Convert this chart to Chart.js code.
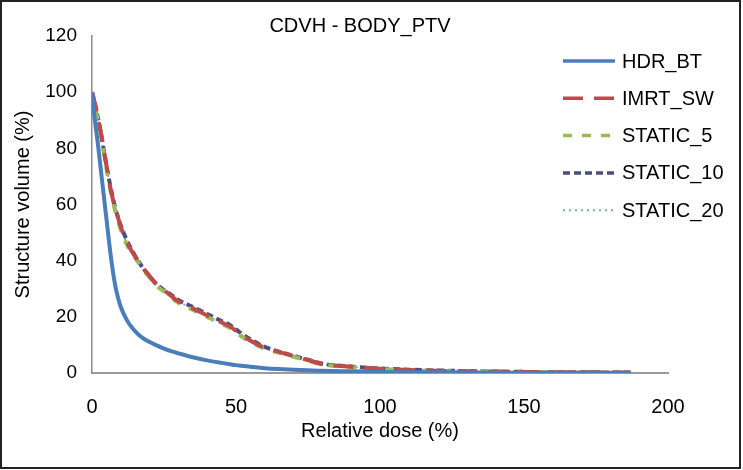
<!DOCTYPE html>
<html>
<head>
<meta charset="utf-8">
<script src="https://cdn.jsdelivr.net/npm/chart.js@4.4.1/dist/chart.umd.min.js"></script>
<style>
  body { margin: 0; background: #fff; }
  canvas { display: block; }
</style>
</head>
<body>
<canvas id="cdvh" width="743" height="470"></canvas>
<script>
/* CDVH - BODY_PTV */

const FONT = "'Liberation Sans', Arial, sans-serif";
const TITLE = "CDVH - BODY_PTV";

// Relative dose (%) sample points shared by every curve
const dose = [0, 1, 2, 3, 4, 5, 6, 7, 8, 9, 10, 12, 14, 16, 18, 20, 22, 25, 28, 30, 35,
  40, 45, 48, 50, 52, 55, 60, 65, 70, 75, 80, 90, 100, 110, 120, 130, 140, 150, 160, 170, 180, 187];

// Structure volume (%) per plan
const hdrBt = [100, 90, 82, 73, 64, 55, 46, 38, 31.5, 27, 23.5, 19, 16, 13.8, 12.2, 11, 10, 8.7, 7.6, 7, 5.6,
  4.5, 3.6, 3.1, 2.8, 2.6, 2.2, 1.7, 1.4, 1.2, 1.0, 0.8, 0.6, 0.4, 0.3, 0.25, 0.2, 0.15, 0.1, 0.1, 0.05, 0.05, 0.05];
const imrtSw = [100, 96, 91, 86, 80, 74, 68, 63, 59, 55.5, 52, 47, 43, 40, 37, 34.5, 32, 29.5, 27, 25.5, 23,
  20.5, 18, 16.5, 15, 13.5, 11.5, 9, 7.5, 6, 4.6, 3.2, 2.2, 1.5, 1.1, 0.8, 0.6, 0.5, 0.4, 0.3, 0.3, 0.2, 0.2];
const static5 = [100, 95, 90, 85, 79, 73, 67, 62, 58, 54.5, 51, 46, 42.5, 39.5, 36.5, 34, 31.5, 29, 26.5, 25, 22.5,
  20, 17.5, 16, 14.5, 13, 11, 8.7, 7.2, 5.8, 4.4, 3.1, 2.1, 1.4, 1.0, 0.8, 0.6, 0.5, 0.4, 0.3, 0.2, 0.2, 0.2];
const static10 = [100, 96, 91, 86, 80, 74, 68.5, 63.5, 59, 55.5, 52.5, 47.5, 43.5, 40, 37, 34.5, 32, 29.5, 27.5, 26, 23.5,
  21, 18.5, 17, 15.5, 14, 12, 9.3, 7.6, 6.1, 4.7, 3.3, 2.3, 1.6, 1.2, 0.9, 0.7, 0.5, 0.4, 0.3, 0.3, 0.2, 0.2];
const static20 = [100, 96, 90.5, 85.5, 79.5, 73.5, 67.5, 62.5, 58.5, 55, 51.5, 46.5, 42.5, 39.5, 36.5, 34, 31.5, 29, 27, 25.5, 23,
  20.5, 18, 16.5, 15, 13.5, 11.5, 9, 7.4, 6, 4.5, 3.2, 2.2, 1.5, 1.1, 0.8, 0.6, 0.5, 0.4, 0.3, 0.3, 0.2, 0.2];

const seriesLabels = ["HDR_BT", "IMRT_SW", "STATIC_5", "STATIC_10", "STATIC_20"];
const seriesValues = [hdrBt, imrtSw, static5, static10, static20];

const seriesStyles = [
  { color: "#4a7ebb", width: 4, dash: [] },
  { color: "#be4b48", width: 4, dash: [20, 11] },
  { color: "#9bbb59", width: 4, dash: [9, 10] },
  { color: "#4b4f7c", width: 4, dash: [7, 4] },
  { color: "#7fa8c8", width: 2, dash: [2, 4] },
];

const points = (vals) => vals.map((v, i) => ({ x: dose[i], y: v }));

// title centred on the whole picture, not on the plot
const pageTitle = {
  id: "pageTitle",
  afterDraw(chart) {
    const ctx = chart.ctx;
    ctx.save();
    ctx.font = `20px ${FONT}`;
    ctx.fillStyle = "#000";
    ctx.textAlign = "center";
    ctx.textBaseline = "alphabetic";
    ctx.fillText(TITLE, 360, 32);
    ctx.restore();
  },
};

// Excel-style legend sitting over the right side of the plot
const sideLegend = {
  id: "sideLegend",
  afterDatasetsDraw(chart) {
    const ctx = chart.ctx;
    ctx.save();
    ctx.font = `20px ${FONT}`;
    ctx.textBaseline = "middle";
    ctx.fillStyle = "#000";
    chart.data.datasets.forEach((ds, i) => {
      const y = 61 + i * 37.3;
      ctx.beginPath();
      ctx.strokeStyle = ds.borderColor;
      ctx.lineWidth = Math.min(ds.borderWidth, 3.5);
      ctx.setLineDash(ds.borderDash || []);
      ctx.moveTo(563, y);
      ctx.lineTo(615, y);
      ctx.stroke();
      ctx.setLineDash([]);
      ctx.fillText(ds.label, 622, y + 1);
    });
    ctx.restore();
  },
};

// thin dark frame round the whole picture
const frame = {
  id: "frame",
  afterDraw(chart) {
    const ctx = chart.ctx;
    ctx.save();
    ctx.strokeStyle = "#222";
    ctx.lineWidth = 2;
    ctx.strokeRect(1, 1, 739, 467);
    ctx.restore();
  },
};

new Chart(document.getElementById("cdvh"), {
  type: "line",
  data: {
    datasets: seriesLabels.map((label, i) => ({
      label,
      data: points(seriesValues[i]),
      borderColor: seriesStyles[i].color,
      backgroundColor: seriesStyles[i].color,
      borderWidth: seriesStyles[i].width,
      borderDash: seriesStyles[i].dash,
      pointRadius: 0,
      cubicInterpolationMode: "monotone",
      fill: false,
    })),
  },
  options: {
    responsive: false,
    animation: false,
    layout: { padding: { left: 0, right: 75, top: 36, bottom: 0 } },
    plugins: {
      legend: { display: false },
      tooltip: { enabled: false },
      title: { display: false },
    },
    scales: {
      x: {
        type: "linear",
        min: 0,
        max: 200,
        ticks: {
          stepSize: 50,
          color: "#000",
          font: { family: FONT, size: 20 },
          padding: 22,
          maxRotation: 0,
        },
        grid: { display: false, drawTicks: false },
        border: { display: true, color: "#9a9a9a", width: 2 },
        title: {
          display: true,
          text: "Relative dose (%)",
          color: "#000",
          font: { family: FONT, size: 20 },
          padding: { top: 0, bottom: 27 },
        },
        afterFit: (scale) => { scale.height = 97; },
      },
      y: {
        min: 0,
        max: 120,
        ticks: {
          stepSize: 20,
          color: "#000",
          font: { family: FONT, size: 19 },
          padding: 15,
        },
        grid: { display: false, drawTicks: false },
        border: { display: true, color: "#8c8c8c", width: 1.5 },
        title: {
          display: true,
          text: "Structure volume (%)",
          color: "#000",
          font: { family: FONT, size: 20 },
          padding: { top: 11, bottom: 0 },
        },
        afterFit: (scale) => { scale.width = 92; },
      },
    },
  },
  plugins: [pageTitle, sideLegend, frame],
});
</script>
</body>
</html>
